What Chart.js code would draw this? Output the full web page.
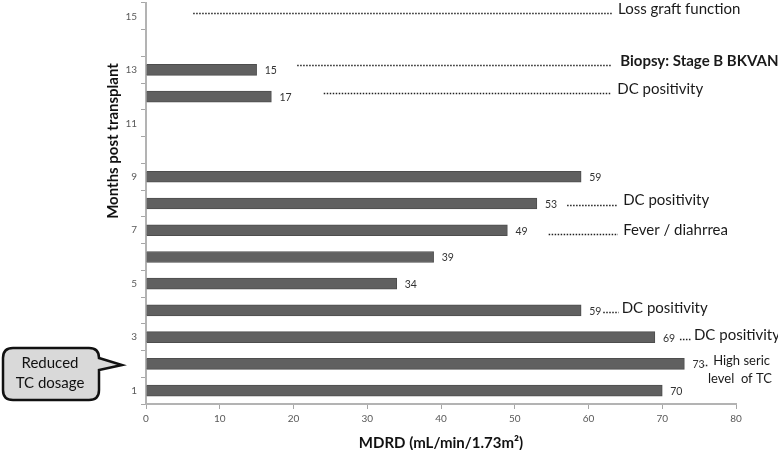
<!DOCTYPE html>
<html>
<head>
<meta charset="utf-8">
<script src="https://cdn.jsdelivr.net/npm/chart.js@4/dist/chart.umd.min.js"></script>
<style>
html,body{margin:0;padding:0;background:#fff;}
#wrap{position:relative;width:778px;height:450px;}
</style>
</head>
<body>
<div id="wrap"><canvas id="c" width="778" height="450"></canvas></div>
<script>
// ---- data ----
const months = ['1','2','3','4','5','6','7','8','9','10','11','12','13','14','15'];
const mdrd = [70,73,69,59,34,39,49,53,59,null,null,17,15,null,null];
const xTicks = [0,10,20,30,40,50,60,70,80];
const xTitle = 'MDRD (mL/min/1.73m\u00B2)';
const yTitle = 'Months post transplant';
const eventMonths = ['15','13','12','8','7','4','3','2'];
const eventTexts = ['Loss graft function','Biopsy: Stage B BKVAN','DC positivity','DC positivity','Fever / diahrrea','DC positivity','DC positivity',['High seric','level  of TC']];
const calloutLines = ['Reduced','TC dosage'];

// ---- annotation layout (axis units / px offsets) ----
const evLayout = [
  {from:6.4, to:63.2, tx:64.0, dy:-7, bold:false},
  {from:20.5,to:63.2, tx:64.3, dy:-8.5, bold:true},
  {from:24.1,to:63.1, tx:63.9, dy:-7.5, bold:false},
  {from:57.1,to:64.0, tx:64.7, dy:-3, bold:false},
  {from:54.6,to:64.0, tx:64.7, dy:0, bold:false},
  {from:62.0,to:64.1, tx:64.5, dy:-2, bold:false},
  {from:72.4,to:73.9, tx:74.3, dy:-2, bold:false},
  {from:75.5,to:76.3, tx:76.9, dy:-3, bold:false, line2x:76.2, lineGap:18, small:true}
];

const FONT = 'Lato, "Open Sans", sans-serif';

const overlay = {
  id:'overlay',
  afterDatasetsDraw(chart){
    const ctx = chart.ctx;
    const xs = chart.scales.x, ys = chart.scales.y;
    const meta = chart.getDatasetMeta(0);
    // value labels
    ctx.save();
    ctx.font = '10.5px ' + FONT;
    ctx.fillStyle = '#333';
    ctx.textBaseline = 'middle';
    ctx.textAlign = 'left';
    meta.data.forEach((bar,i)=>{
      const v = mdrd[i];
      if (v === null) return;
      ctx.fillText(String(v), bar.x + 8, bar.y + 1);
    });
    ctx.restore();

    // events
    ctx.save();
    eventMonths.forEach((m,i)=>{
      const L = evLayout[i];
      const yc = ys.getPixelForValue(months.indexOf(m)) + L.dy;
      ctx.strokeStyle = '#222';
      ctx.lineWidth = 1.5;
      ctx.setLineDash([1.5,1.5]);
      ctx.beginPath();
      ctx.moveTo(xs.getPixelForValue(L.from), Math.round(yc + 4) + 0.5);
      ctx.lineTo(xs.getPixelForValue(L.to), Math.round(yc + 4) + 0.5);
      ctx.stroke();
      ctx.setLineDash([]);
      ctx.fillStyle = '#1a1a1a';
      ctx.textBaseline = 'middle';
      ctx.textAlign = 'left';
      const sz = L.small ? 13 : 15;
      ctx.font = (L.bold ? 'bold ' : '') + sz + 'px ' + FONT;
      const t = eventTexts[i];
      if (Array.isArray(t)) {
        ctx.fillText(t[0], xs.getPixelForValue(L.tx), yc);
        ctx.fillText(t[1], xs.getPixelForValue(L.line2x), yc + L.lineGap);
      } else {
        ctx.fillText(t, xs.getPixelForValue(L.tx), yc);
      }
    });
    ctx.restore();

    // axis titles
    ctx.save();
    ctx.fillStyle = '#111';
    ctx.font = 'bold 15px ' + FONT;
    ctx.textAlign = 'center';
    ctx.textBaseline = 'middle';
    ctx.fillText(xTitle, (chart.chartArea.left + chart.chartArea.right)/2, 443);
    ctx.translate(113, 141);
    ctx.rotate(-Math.PI/2);
    ctx.font = 'bold 15px ' + FONT;
    ctx.fillText(yTitle, 0, 0);
    ctx.restore();

    // callout
    ctx.save();
    const bx=3, by=348, bw=96, bh=52, r=10;
    const tipX = 122, tipY = 365;
    ctx.beginPath();
    ctx.moveTo(bx+r, by);
    ctx.lineTo(bx+bw-r, by);
    ctx.quadraticCurveTo(bx+bw, by, bx+bw, by+r);
    ctx.lineTo(bx+bw, 358);
    ctx.lineTo(tipX, tipY);
    ctx.lineTo(bx+bw, 370);
    ctx.lineTo(bx+bw, by+bh-r);
    ctx.quadraticCurveTo(bx+bw, by+bh, bx+bw-r, by+bh);
    ctx.lineTo(bx+r, by+bh);
    ctx.quadraticCurveTo(bx, by+bh, bx, by+bh-r);
    ctx.lineTo(bx, by+r);
    ctx.quadraticCurveTo(bx, by, bx+r, by);
    ctx.closePath();
    ctx.fillStyle = '#d9d9d9';
    ctx.fill();
    ctx.lineWidth = 2.5;
    ctx.strokeStyle = '#111';
    ctx.stroke();
    ctx.fillStyle = '#111';
    ctx.font = '15px ' + FONT;
    ctx.textAlign = 'center';
    ctx.textBaseline = 'middle';
    ctx.fillText(calloutLines[0], 50, 363);
    ctx.fillText(calloutLines[1], 50, 383);
    ctx.restore();
  }
};

new Chart(document.getElementById('c'), {
  type:'bar',
  data:{
    labels: months,
    datasets:[{
      data: mdrd,
      backgroundColor:'#606060',
      borderColor:'#4d4d4d',
      borderWidth:1,
      barThickness:11
    }]
  },
  options:{
    indexAxis:'y',
    responsive:false,
    animation:false,
    devicePixelRatio:1,
    layout:{padding:{left:0,top:3,right:42,bottom:0}},
    plugins:{legend:{display:false},tooltip:{enabled:false}},
    scales:{
      y:{
        reverse:true,
        offset:true,
        afterFit(s){ s.width = 146; s.paddingTop = 0; s.paddingBottom = 0; },
        grid:{display:true, drawOnChartArea:false, offset:true, tickLength:5, color:'#a6a6a6', lineWidth:1},
        border:{display:true, color:'#b3b3b3', width:2},
        ticks:{
          autoSkip:false,
          padding:4,
          color:'#595959',
          font:{size:10, family:FONT},
          callback(v,i){ const l = months[i]; return (Number(l)%2===1) ? l : ''; }
        }
      },
      x:{
        min:xTicks[0], max:xTicks[xTicks.length-1],
        afterFit(s){ s.height = 46; },
        afterBuildTicks(s){ s.ticks = xTicks.map(v=>({value:v})); },
        grid:{display:true, drawOnChartArea:false, tickLength:5, color:'#a6a6a6'},
        border:{display:true, color:'#b3b3b3', width:2},
        ticks:{padding:4, color:'#595959', font:{size:10, family:FONT}}
      }
    }
  },
  plugins:[overlay]
});
</script>
</body>
</html>
